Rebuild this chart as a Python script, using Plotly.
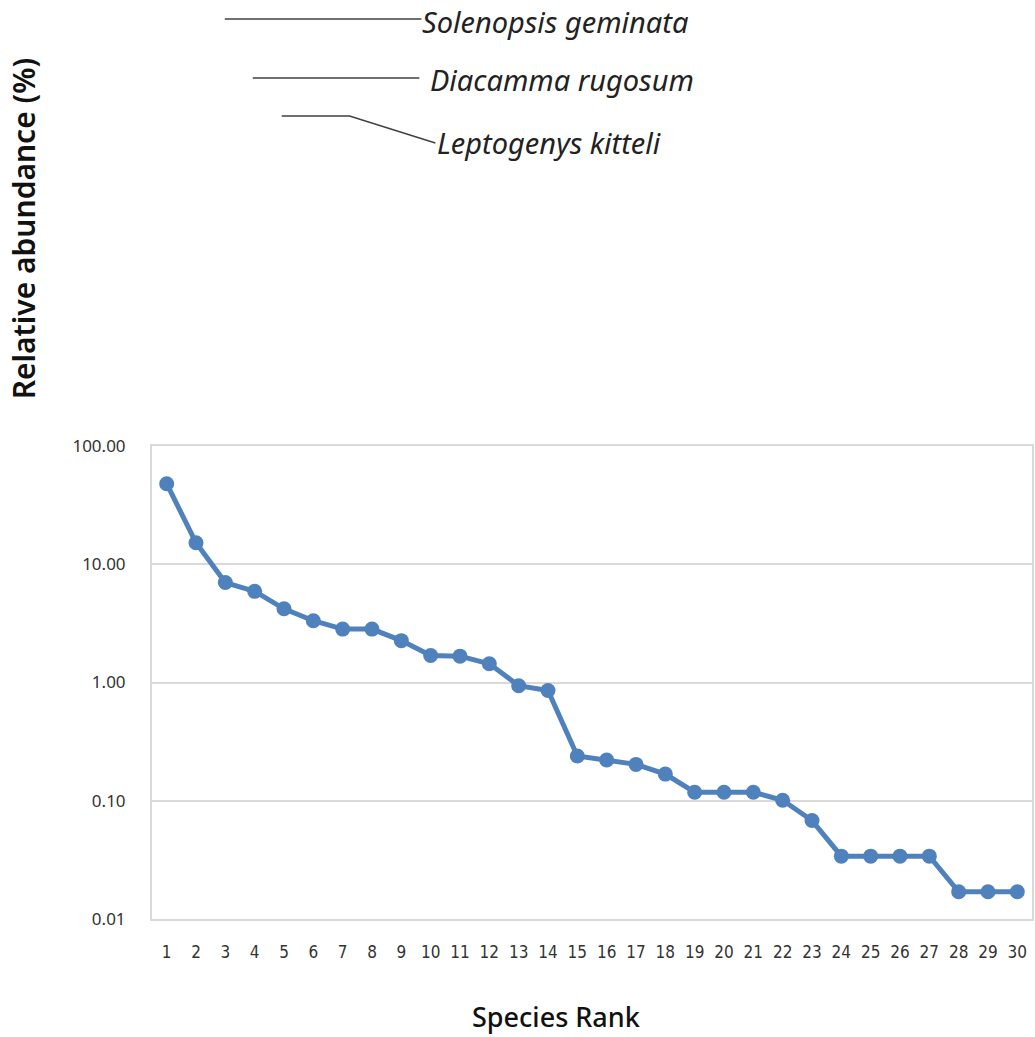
import plotly.graph_objects as go

ranks = list(range(1, 31))
abundance = [48.0, 15.2, 7.0, 5.9, 4.2, 3.33, 2.83, 2.83, 2.26, 1.69,
             1.67, 1.44, 0.94, 0.855, 0.239, 0.221, 0.203, 0.168, 0.118, 0.118,
             0.118, 0.101, 0.068, 0.034, 0.034, 0.034, 0.034, 0.017, 0.017, 0.017]
ytick_vals = [0.01, 0.1, 1, 10, 100]
ytick_text = ["0.01", "0.10", "1.00", "10.00", "100.00"]
labels = ["Solenopsis geminata", "Diacamma rugosum", "Leptogenys kitteli"]

W, H = 1035, 1037
L, R, T, B = 152, 1, 446, 118
pw, ph = W - L - R, H - T - B

def px(x):
    return (x - L) / pw

def py(y):
    return (H - B - y) / ph

fig = go.Figure()
fig.add_trace(go.Scatter(
    x=ranks, y=abundance, mode="lines+markers",
    line=dict(color="#4f81bd", width=5),
    marker=dict(color="#4f81bd", size=15),
    showlegend=False,
))

shapes = []
line_style = dict(color="#404040", width=1.5)
shapes.append(dict(type="line", xref="paper", yref="paper",
                   x0=px(225), y0=py(19), x1=px(422), y1=py(19), line=line_style))
shapes.append(dict(type="line", xref="paper", yref="paper",
                   x0=px(253), y0=py(78), x1=px(420), y1=py(78), line=line_style))
shapes.append(dict(type="path", xref="paper", yref="paper",
                   path=f"M {px(282)},{py(116)} L {px(350)},{py(116)} L {px(436)},{py(143)}",
                   line=line_style))

annotations = [
    dict(text=labels[0], x=px(421), y=py(21), xanchor="left", yanchor="middle"),
    dict(text=labels[1], x=px(429), y=py(80), xanchor="left", yanchor="middle"),
    dict(text=labels[2], x=px(436), y=py(142), xanchor="left", yanchor="middle"),
]
for a in annotations:
    a.update(xref="paper", yref="paper", showarrow=False,
             font=dict(family="Noto Sans", size=29, color="#222222", style="italic"))

annotations.append(dict(text="Relative abundance (%)", textangle=-90,
                        xref="paper", yref="paper", x=px(23), y=py(228),
                        xanchor="center", yanchor="middle", showarrow=False,
                        font=dict(family="Noto Sans", size=30, weight=600, color="#111111")))
annotations.append(dict(text="Species Rank", xref="paper", yref="paper",
                        x=px(557), y=py(1016), xanchor="center", yanchor="middle",
                        showarrow=False,
                        font=dict(family="Noto Sans", size=27, weight=500, color="#111111")))

fig.update_layout(
    width=W, height=H,
    margin=dict(l=L, r=R, t=T, b=B),
    plot_bgcolor="white", paper_bgcolor="white",
    shapes=shapes, annotations=annotations,
    xaxis=dict(range=[0.5, 30.5], tickmode="array", tickvals=ranks,
               ticktext=[str(r) for r in ranks], showgrid=False, zeroline=False,
               showline=True, linecolor="#d9d9d9", linewidth=2, mirror=True,
               ticks="", ticklabelstandoff=17,
               tickfont=dict(family="DejaVu Sans Condensed, Liberation Sans Narrow, Roboto",
                             size=17, color="#333333")),
    yaxis=dict(type="log", range=[-2, 2], tickmode="array", tickvals=ytick_vals,
               ticktext=ytick_text, showgrid=True, gridcolor="#d9d9d9", gridwidth=1.5,
               zeroline=False, showline=True, linecolor="#d9d9d9", linewidth=2, mirror=True,
               ticks="", ticklabelstandoff=21,
               tickfont=dict(family="Noto Sans", size=17, color="#333333")),
)

fig.write_html("out.html", config={"displayModeBar": False},
               post_script="document.body.style.margin='0px';")
